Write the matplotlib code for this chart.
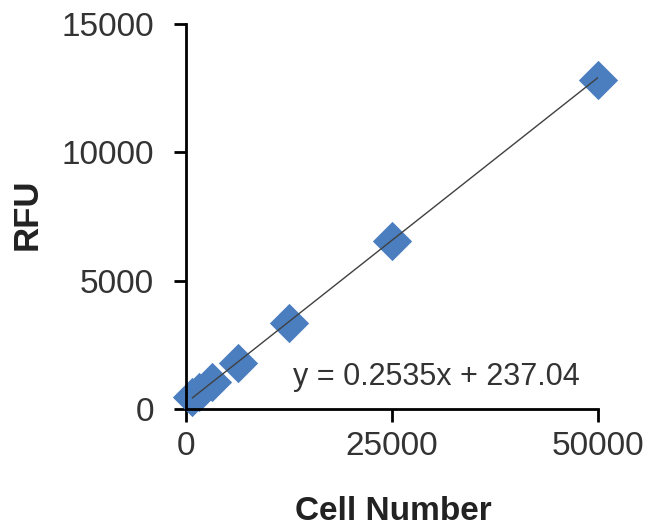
import matplotlib
matplotlib.use("Agg")
import matplotlib.pyplot as plt
import numpy as np

cells = [781, 1562, 3125, 6250, 12500, 25000, 50000]
rfu = [450, 650, 1050, 1800, 3350, 6550, 12800]
slope = 0.2535
intercept = 237.04
x_ticks = [0, 25000, 50000]
y_ticks = [0, 5000, 10000, 15000]

plt.rcParams['font.family'] = ['Liberation Sans', 'DejaVu Sans']

fig = plt.figure(figsize=(6.54, 5.28), dpi=100)
ax = fig.add_axes([186/654, 1-409/528, (598-186)/654, (409-24)/528])

xs = np.array([min(cells), max(cells)])
ax.plot(xs, slope*xs + intercept, color='#404040', lw=1.0, zorder=3)
ax.scatter(cells, rfu, marker='D', s=400, color='#4A7EBF', zorder=2, linewidths=0,
           clip_on=False)

ax.set_xlim(0, 50000)
ax.set_ylim(0, 15000)
ax.set_xticks(x_ticks)
ax.set_yticks(y_ticks)
ax.set_xticklabels([str(v) for v in x_ticks])
ax.set_yticklabels([str(v) for v in y_ticks])
for s in ['top', 'right']:
    ax.spines[s].set_visible(False)
for s in ['left', 'bottom']:
    ax.spines[s].set_linewidth(2)
    ax.spines[s].set_color('black')
ax.tick_params(direction='out', length=9, width=2, labelsize=24, colors='black',
               labelcolor='#333333')
ax.tick_params(axis='y', pad=14)
ax.tick_params(axis='x', pad=7)

fig.text(393/654, 1-511/528, 'Cell Number', ha='center', va='center',
         fontsize=24, fontweight='bold', color='#222222')
fig.text(27/654, 1-214/528, 'RFU', ha='center', va='center', rotation=90,
         fontsize=25, fontweight='bold', color='#222222')
fig.text(436/654, 1-377/528, f'y = {slope}x + {intercept}', ha='center', va='center',
         fontsize=22, color='#333333')

fig.savefig('out.png', dpi=100)
